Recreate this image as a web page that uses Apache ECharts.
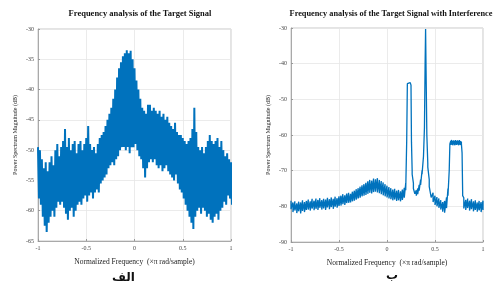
<!DOCTYPE html>
<html>
<head>
<meta charset="utf-8">
<script src="https://cdn.jsdelivr.net/npm/echarts@6/dist/echarts.min.js"></script>
<style>
  html, body { margin: 0; padding: 0; background: #fff; }
  #chart { width: 494px; height: 288px; }
</style>
</head>
<body>
<div id="chart"></div>
<script>
// titles / labels
const leftTitle = 'Frequency analysis of the Target Signal';
const rightTitle = 'Frequency analysis of the Target Signal with Interference';
const xName = 'Normalized Frequency  (\u00d7\u03c0 rad/sample)';
const yName = 'Power Spectrum Magnitude (dB)';
const xTicks = [-1, -0.5, 0, 0.5, 1];
const leftYTicks = [-65, -60, -55, -50, -45, -40, -35, -30];
const rightYTicks = [-90, -80, -70, -60, -50, -40, -30];

// left spectrum: frequency grid and upper / lower edge of the noisy trace (dB)
const leftFreq = [
  -1.00, -0.98, -0.96, -0.94, -0.92, -0.90, -0.88, -0.86, -0.84, -0.82,
  -0.80, -0.78, -0.76, -0.74, -0.72, -0.70, -0.68, -0.66, -0.64, -0.62,
  -0.60, -0.58, -0.56, -0.54, -0.52, -0.50, -0.48, -0.46, -0.44, -0.42,
  -0.40, -0.38, -0.36, -0.34, -0.32, -0.30, -0.28, -0.26, -0.24, -0.22,
  -0.20, -0.18, -0.16, -0.14, -0.12, -0.10, -0.08, -0.06, -0.04, -0.02,
  0.00, 0.02, 0.04, 0.06, 0.08, 0.10, 0.12, 0.14, 0.16, 0.18,
  0.20, 0.22, 0.24, 0.26, 0.28, 0.30, 0.32, 0.34, 0.36, 0.38,
  0.40, 0.42, 0.44, 0.46, 0.48, 0.50, 0.52, 0.54, 0.56, 0.58,
  0.60, 0.62, 0.64, 0.66, 0.68, 0.70, 0.72, 0.74, 0.76, 0.78,
  0.80, 0.82, 0.84, 0.86, 0.88, 0.90, 0.92, 0.94, 0.96, 0.98,
  1.00
];
const leftHi = [
  -49.5, -50, -51.5, -53, -52, -53.5, -52, -51, -52.5, -50,
  -49, -51, -49.5, -48.5, -46.5, -49.5, -48, -50, -49, -48.5,
  -50.5, -49, -48.5, -50, -49, -48, -46, -49, -50, -49.5,
  -50.5, -49, -48, -47.5, -47, -46, -45, -44, -43, -41.5,
  -40, -38, -36.5, -35.5, -34.5, -34, -33.5, -34, -33.6, -35,
  -36.5, -38.5, -40, -41.5, -43, -43.5, -44, -42.5, -42.5, -43.5,
  -43, -43.5, -44, -43.5, -44.5, -44, -45, -44.5, -45.5, -46,
  -46.5, -45.5, -47, -47.5, -47.5, -48, -48.5, -49, -48.5, -48,
  -46.5, -43, -47, -49.5, -50, -49.5, -50.5, -49.5, -48.5, -47.5,
  -48.5, -49, -48.5, -48, -49.5, -48.5, -50, -51, -50.5, -51.5,
  -52
];
const leftLo = [
  -58, -59, -61, -62.5, -63.5, -62, -61, -60, -61, -59.5,
  -58.5, -59, -58.5, -59.5, -60.5, -61.5, -60, -59.5, -61, -60,
  -59, -58.5, -59, -58, -57.5, -58.5, -57.5, -57, -58, -57,
  -56.5, -57, -55.5, -55, -54.5, -54, -53, -52.5, -52, -52.5,
  -51.5, -51, -50, -49.5, -49.5, -50, -49.5, -50.5, -49.5, -49.5,
  -49, -50, -51, -51.5, -53, -54.5, -53, -52, -51.5, -52,
  -51.5, -52.5, -53, -52.5, -53.5, -53, -52.5, -53.5, -54, -54.5,
  -55, -54, -55.5, -56.5, -57, -58, -59, -60, -61, -62,
  -63, -61, -60, -59.5, -60.5, -59.5, -60, -61, -60.5, -61.5,
  -62, -61, -60.5, -61.5, -60, -59.5, -58.5, -59, -57.5, -58,
  -59
];

// right spectrum (with interference)
const rightFreq = [
  -1.00, -0.98, -0.96, -0.94, -0.92, -0.90, -0.88, -0.86, -0.84, -0.82,
  -0.80, -0.78, -0.76, -0.74, -0.72, -0.70, -0.68, -0.66, -0.64, -0.62,
  -0.60, -0.58, -0.56, -0.54, -0.52, -0.50, -0.48, -0.46, -0.44, -0.42,
  -0.40, -0.38, -0.36, -0.34, -0.32, -0.30, -0.28, -0.26, -0.24, -0.22,
  -0.20, -0.18, -0.16, -0.14, -0.12, -0.10, -0.08, -0.06, -0.04, -0.02,
  0.00, 0.02, 0.04, 0.06, 0.08, 0.10, 0.12, 0.14, 0.16, 0.18,
  0.195, 0.205, 0.212, 0.222, 0.232, 0.242, 0.25, 0.255, 0.262, 0.275,
  0.29, 0.305, 0.32, 0.335, 0.35, 0.365, 0.38, 0.39, 0.397, 0.402,
  0.407, 0.415, 0.425, 0.44, 0.46,
  0.48, 0.50, 0.52, 0.54, 0.56, 0.58, 0.60, 0.62, 0.635, 0.648,
  0.655, 0.665, 0.675, 0.685, 0.695, 0.705, 0.715, 0.725, 0.735, 0.745,
  0.755, 0.765, 0.775, 0.782, 0.788,
  0.80, 0.82, 0.84, 0.86, 0.88, 0.90, 0.92, 0.94, 0.96, 0.98,
  1.00
];
const rightHi = [
  -78.4, -78.9, -78.6, -79.2, -78.7, -78.9, -78.3, -78.8, -78.5, -78.1,
  -78.6, -77.9, -78.4, -77.8, -78.2, -77.7, -78.3, -77.9, -78.1, -77.6,
  -78.0, -77.5, -77.9, -77.3, -77.7, -77.2, -77.0, -76.6, -76.9, -76.4,
  -76.2, -76.5, -75.9, -75.6, -75.2, -74.9, -74.5, -74.1, -73.8, -73.4,
  -73.0, -72.6, -72.8, -72.2, -72.4, -72.1, -72.6, -72.9, -73.3, -73.8,
  -74.2, -74.6, -74.9, -75.3, -75.1, -75.6, -75.4, -75.8, -75.3, -74.8,
  -73.5, -62, -45.6, -45.2, -45.4, -45.3, -46, -62, -70, -73.5,
  -75, -75.5, -75, -74, -72.5, -70, -66, -58, -40, -30.3,
  -42, -60, -68, -72.5, -75,
  -76.2, -77.0, -77.4, -77.8, -78.3, -78.8, -78.5, -77.5, -75, -70,
  -62.5, -61.6, -61.4, -61.7, -61.5, -61.6, -61.4, -61.7, -61.5, -61.6,
  -61.4, -61.7, -61.8, -65, -76,
  -77.6, -78.2, -77.8, -78.4, -78.0, -78.6, -78.3, -78.9, -78.5, -78.8,
  -78.4
];
const rightLo = [
  -80.8, -81.6, -81.2, -81.9, -81.4, -82.0, -81.3, -81.6, -81.0, -80.9,
  -81.2, -80.6, -81.1, -80.7, -81.0, -80.4, -80.9, -80.6, -81.0, -80.3,
  -80.8, -80.2, -80.7, -80.1, -80.4, -79.9, -79.8, -79.4, -79.6, -79.1,
  -79.0, -78.9, -78.6, -78.4, -78.1, -77.8, -77.6, -77.2, -77.0, -76.8,
  -76.5, -76.2, -76.4, -76.0, -75.9, -76.1, -76.3, -76.6, -76.9, -77.2,
  -77.5, -77.8, -78.0, -78.3, -78.1, -78.5, -78.3, -78.6, -78.2, -77.6,
  -75.5, -62, -45.6, -45.8, -45.9, -45.7, -46, -62, -71, -75,
  -76.5, -77, -76.6, -75.6, -74, -71, -66, -58, -40, -30.3,
  -42, -60, -69, -74.5, -77.5,
  -78.8, -79.6, -80.0, -80.4, -80.9, -81.5, -81.8, -80.5, -77, -70,
  -62.5, -62.8, -62.7, -62.9, -62.6, -62.9, -62.7, -62.8, -62.6, -62.9,
  -62.7, -62.8, -62.5, -65, -77,
  -80.6, -81.0, -80.5, -81.2, -80.8, -81.4, -81.0, -81.5, -81.1, -81.6,
  -81.0
];

const blue = '#0072BD';
const serif = 'Liberation Serif';

// dense trace: each frequency gets its upper reading, the lower one
// sits a little to the right of it (shift = 0 keeps them on one x)
const trace = (freq, hi, lo, shift) => {
  const pts = [];
  freq.forEach((f, i) => {
    pts.push([f, hi[i]]);
    if (lo[i] !== hi[i]) pts.push([f + shift, lo[i]]);
  });
  return pts;
};

const makeX = (gridIndex) => ({
  type: 'value',
  gridIndex,
  min: xTicks[0],
  max: xTicks[xTicks.length - 1],
  interval: 0.5,
  name: xName,
  nameLocation: 'middle',
  nameGap: 17,
  nameTextStyle: { fontFamily: serif, fontSize: 7.5, color: '#222' },
  axisLine: { show: true, onZero: false, lineStyle: { color: '#999', width: 0.8 } },
  axisTick: { show: true, inside: true, length: 2, lineStyle: { color: '#999' } },
  axisLabel: { fontFamily: serif, fontSize: 6, color: '#444', margin: 4 },
  splitLine: { show: true, lineStyle: { color: '#e6e6e6', width: 0.8 } },
});

const makeY = (gridIndex, ticks) => ({
  type: 'value',
  gridIndex,
  min: ticks[0],
  max: ticks[ticks.length - 1],
  interval: ticks[1] - ticks[0],
  name: yName,
  nameLocation: 'middle',
  nameGap: 20,
  nameTextStyle: { fontFamily: serif, fontSize: 6, color: '#222' },
  axisLine: { show: true, onZero: false, lineStyle: { color: '#999', width: 0.8 } },
  axisTick: { show: true, inside: true, length: 2, lineStyle: { color: '#999' } },
  axisLabel: { fontFamily: serif, fontSize: 6, color: '#444', margin: 4 },
  splitLine: { show: true, lineStyle: { color: '#e6e6e6', width: 0.8 } },
});

const chart = echarts.init(document.getElementById('chart'), null, { renderer: 'canvas' });

chart.setOption({
  animation: false,
  backgroundColor: '#fff',
  title: [
    {
      text: leftTitle, left: 135, top: 4, textAlign: 'center',
      textStyle: { fontFamily: serif, fontSize: 8.5, fontWeight: 'bold', color: '#111' },
    },
    {
      text: rightTitle, left: 386, top: 5, textAlign: 'center',
      textStyle: { fontFamily: serif, fontSize: 8.3, fontWeight: 'bold', color: '#111' },
    },
  ],
  grid: [
    { left: 38, right: 263, top: 29, bottom: 47, show: true, borderColor: '#bbb', borderWidth: 0.8 },
    { left: 291, right: 11, top: 28, bottom: 46, show: true, borderColor: '#bbb', borderWidth: 0.8 },
  ],
  xAxis: [makeX(0), makeX(1)],
  yAxis: [makeY(0, leftYTicks), makeY(1, rightYTicks)],
  series: [
    {
      type: 'line', xAxisIndex: 0, yAxisIndex: 0,
      data: trace(leftFreq, leftHi, leftLo, 0.01),
      showSymbol: false, clip: true,
      lineStyle: { color: blue, width: 2 },
    },
    {
      type: 'line', xAxisIndex: 1, yAxisIndex: 1,
      data: trace(rightFreq, rightHi, rightLo, 0),
      showSymbol: false, clip: true,
      lineStyle: { color: blue, width: 1.3 },
    },
  ],
  graphic: [
    {
      type: 'text', left: 112, top: 272,
      style: { text: '\u0627\u0644\u0641', font: 'bold 12px "DejaVu Sans"', fill: '#111' },
    },
    {
      type: 'text', left: 386, top: 270,
      style: { text: '\u0628', font: 'bold 12px "DejaVu Sans"', fill: '#111' },
    },
  ],
});
</script>
</body>
</html>
